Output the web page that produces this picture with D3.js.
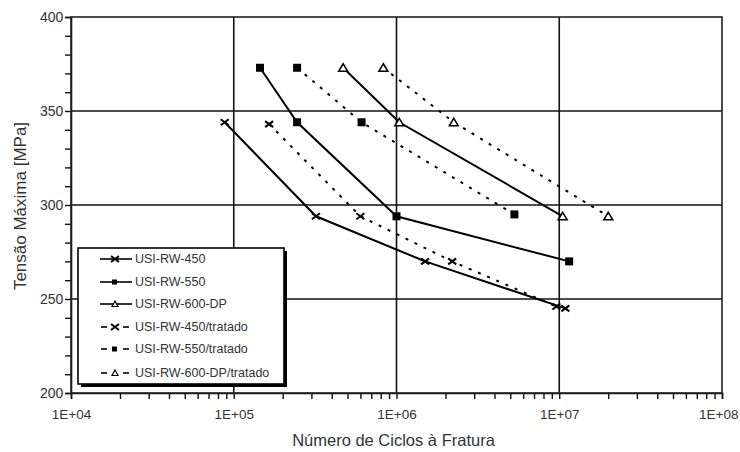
<!DOCTYPE html>
<html>
<head>
<meta charset="utf-8">
<script src="https://cdn.jsdelivr.net/npm/d3@7"></script>
<style>
  body { margin: 0; background: #fff; }
  text { font-family: "Liberation Sans", Arial, sans-serif; fill: #333; }
</style>
</head>
<body>
<div id="chart"></div>
<script>
(function(){
  var W = 740, H = 452;
  var margin = {left: 71, top: 17, right: 18, bottom: 59};
  var w = W - margin.left - margin.right, h = H - margin.top - margin.bottom;

  // dados
  var names = ["USI-RW-450", "USI-RW-550", "USI-RW-600-DP",
               "USI-RW-450/tratado", "USI-RW-550/tratado", "USI-RW-600-DP/tratado"];
  var markers = ["x", "square", "triangle", "x", "square", "triangle"];
  var dashed = [false, false, false, true, true, true];
  var cycles450 = [8.8e4, 3.2e5, 1.5e6, 1.09e7];
  var stress450 = [344, 294, 270, 245];
  var cycles550 = [1.45e5, 2.45e5, 1.0e6, 1.15e7];
  var stress550 = [373, 344, 294, 270];
  var cycles600 = [4.7e5, 1.04e6, 1.05e7];
  var stress600 = [373, 344, 294];
  var cycles450t = [1.65e5, 6.0e5, 2.2e6, 9.6e6];
  var stress450t = [343, 294, 270, 246];
  var cycles550t = [2.45e5, 6.1e5, 5.3e6];
  var stress550t = [373, 344, 295];
  var cycles600t = [8.3e5, 2.25e6, 2.0e7];
  var stress600t = [373, 344, 294];
  var xTicks = [1e4, 1e5, 1e6, 1e7, 1e8];
  var xTickLabels = ["1E+04", "1E+05", "1E+06", "1E+07", "1E+08"];
  var yTicks = [200, 250, 300, 350, 400];

  var allCycles = [cycles450, cycles550, cycles600, cycles450t, cycles550t, cycles600t];
  var allStress = [stress450, stress550, stress600, stress450t, stress550t, stress600t];

  var svg = d3.select("#chart").append("svg")
              .attr("width", W).attr("height", H);
  var g = svg.append("g").attr("transform", "translate(" + margin.left + "," + margin.top + ")");

  var x = d3.scaleLog().domain([1e4, 1e8]).range([0, w]);
  var y = d3.scaleLinear().domain([200, 400]).range([h, 0]);

  // grade
  g.selectAll(".gx").data(xTicks.slice(1, -1)).enter().append("line")
   .attr("x1", d => x(d)).attr("x2", d => x(d))
   .attr("y1", 0).attr("y2", h)
   .attr("stroke", "#111").attr("stroke-width", 1.6);
  g.selectAll(".gy").data(yTicks.slice(1, -1)).enter().append("line")
   .attr("x1", 0).attr("x2", w)
   .attr("y1", d => y(d)).attr("y2", d => y(d))
   .attr("stroke", "#111").attr("stroke-width", 1.6);

  // eixos
  var minorX = [];
  for (var e = 4; e < 8; e++) for (var k = 1; k < 10; k++) minorX.push(k * Math.pow(10, e));
  minorX.push(1e8);
  var xAxis = d3.axisBottom(x).tickValues(minorX).tickSize(6)
    .tickFormat(function(d){ var i = xTicks.indexOf(d); return i >= 0 ? xTickLabels[i] : ""; });
  var gx = g.append("g").attr("transform", "translate(0," + h + ")").call(xAxis);
  gx.selectAll("text").attr("dy", "1.25em").style("font-size", "13.5px").attr("fill", "#333");
  // último rótulo encostado na borda direita
  gx.selectAll("text").filter(d => d === 1e8).attr("text-anchor", "end").attr("x", 16);

  var minorY = d3.range(200, 401, 10);
  var yAxis = d3.axisLeft(y).tickValues(minorY).tickSize(6)
    .tickFormat(function(d){ return yTicks.indexOf(d) >= 0 ? d : ""; });
  var gy = g.append("g").call(yAxis);
  gy.selectAll("text").attr("dx", "0.1em").style("font-size", "14px").attr("fill", "#333");

  svg.selectAll(".domain").attr("stroke", "#111").attr("stroke-width", 1.6);
  svg.selectAll(".tick line").attr("stroke", "#111").attr("stroke-width", 1.4);

  // borda superior e direita
  g.append("rect").attr("width", w).attr("height", h)
   .attr("fill", "none").attr("stroke", "#222").attr("stroke-width", 1.6);

  // títulos
  svg.append("text").attr("x", margin.left + w / 2 - 3).attr("y", 446)
     .attr("text-anchor", "middle").style("font-size", "16.5px")
     .text("Número de Ciclos à Fratura");
  svg.append("text").attr("transform", "translate(26," + (margin.top + h / 2 + 1) + ") rotate(-90)")
     .attr("text-anchor", "middle").style("font-size", "17px")
     .text("Tensão Máxima [MPa]");

  function drawMarker(sel, type, cx, cy){
    if (type === "x") {
      sel.append("path").attr("d", "M" + (cx-4) + "," + (cy-3) + "L" + (cx+4) + "," + (cy+3) +
                                   "M" + (cx-4) + "," + (cy+3) + "L" + (cx+4) + "," + (cy-3))
         .attr("stroke", "#000").attr("stroke-width", 2).attr("fill", "none");
    } else if (type === "square") {
      sel.append("rect").attr("x", cx - 4).attr("y", cy - 4).attr("width", 8).attr("height", 8)
         .attr("fill", "#000");
    } else {
      sel.append("path").attr("d", "M" + cx + "," + (cy-4) + "L" + (cx+4.5) + "," + (cy+3.5) + "L" + (cx-4.5) + "," + (cy+3.5) + "Z")
         .attr("stroke", "#000").attr("stroke-width", 1.5).attr("fill", "#fff");
    }
  }

  var line = d3.line().x(d => x(d[0])).y(d => y(d[1]));

  allCycles.forEach(function(c, i){
    var pts = c.map(function(v, j){ return [v, allStress[i][j]]; });
    g.append("path").datum(pts).attr("d", line)
     .attr("fill", "none").attr("stroke", "#000").attr("stroke-width", 2)
     .attr("stroke-dasharray", dashed[i] ? "3,7" : null);
    var mg = g.append("g");
    pts.forEach(function(p){ drawMarker(mg, markers[i], x(p[0]), y(p[1])); });
  });

  // legenda
  var lg = svg.append("g").attr("transform", "translate(78,248)");
  lg.append("rect").attr("x", 3).attr("y", 3).attr("width", 206).attr("height", 136).attr("fill", "#000");
  lg.append("rect").attr("width", 206).attr("height", 136)
    .attr("fill", "#fff").attr("stroke", "#000").attr("stroke-width", 1.6);
  var rowY = [11, 34, 56, 79, 101, 125];
  names.forEach(function(n, i){
    var ry = rowY[i];
    if (dashed[i]) {
      lg.append("line").attr("x1", 23).attr("x2", 29).attr("y1", ry).attr("y2", ry)
        .attr("stroke", "#000").attr("stroke-width", 1.6);
      lg.append("line").attr("x1", 45).attr("x2", 51).attr("y1", ry).attr("y2", ry)
        .attr("stroke", "#000").attr("stroke-width", 1.6);
    } else {
      lg.append("line").attr("x1", 22).attr("x2", 54).attr("y1", ry).attr("y2", ry)
        .attr("stroke", "#000").attr("stroke-width", 1.6);
    }
    var sg = lg.append("g");
    if (markers[i] === "square") {
      sg.append("rect").attr("x", 34).attr("y", ry - 2.5).attr("width", 5).attr("height", 5).attr("fill", "#000");
    } else if (markers[i] === "x") {
      drawMarker(sg, "x", 37, ry);
    } else {
      sg.append("path").attr("d", "M37," + (ry-3) + "L40," + (ry+2.5) + "L34," + (ry+2.5) + "Z")
        .attr("stroke", "#000").attr("stroke-width", 1.2).attr("fill", "#fff");
    }
    lg.append("text").attr("x", 57).attr("y", ry).attr("dy", "0.35em")
      .style("font-size", "12.5px").text(n);
  });
})();
</script>
</body>
</html>
